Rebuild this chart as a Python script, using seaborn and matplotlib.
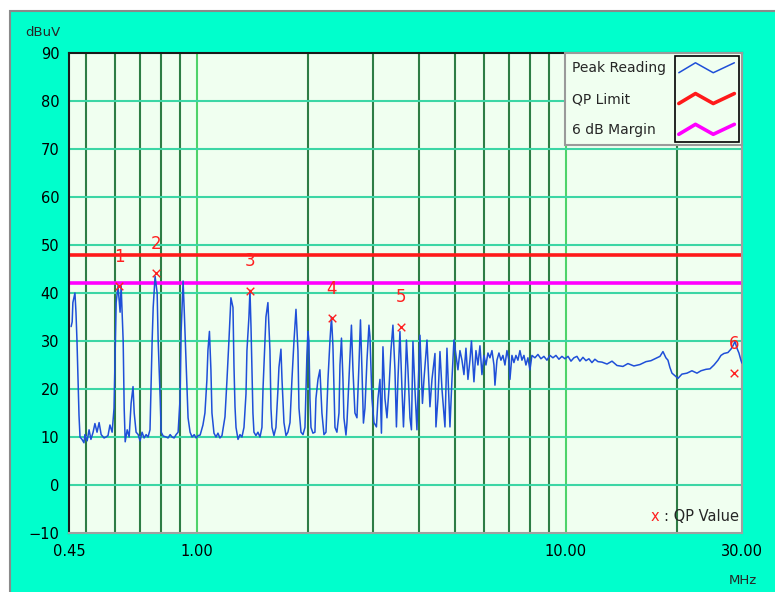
import numpy as np
import matplotlib
matplotlib.use("Agg")
import matplotlib.pyplot as plt
import seaborn as sns
from matplotlib.lines import Line2D
from matplotlib.patches import Rectangle
from matplotlib.legend_handler import HandlerLine2D
from matplotlib.ticker import NullLocator
from matplotlib.transforms import Bbox, IdentityTransform

# Peak reading trace (MHz, dBuV)
peak_freq = [
    0.456, 0.459, 0.461, 0.467, 0.470, 0.473, 0.476, 0.479, 0.482, 0.488,
    0.494, 0.497, 0.504, 0.510, 0.516, 0.523, 0.529, 0.536, 0.543, 0.550,
    0.560, 0.567, 0.574, 0.581, 0.589, 0.596, 0.604, 0.611, 0.619, 0.623,
    0.631, 0.635, 0.639, 0.647, 0.655, 0.663, 0.671, 0.676, 0.684, 0.693,
    0.701, 0.710, 0.719, 0.728, 0.737, 0.746, 0.756, 0.761, 0.765, 0.770,
    0.780, 0.785, 0.795, 0.800, 0.810, 0.825, 0.835, 0.846, 0.856, 0.867,
    0.878, 0.889, 0.900, 0.906, 0.917, 0.923, 0.935, 0.946, 0.958, 0.970,
    0.983, 0.995, 1.007, 1.020,
    1.038, 1.051, 1.064, 1.071, 1.081, 1.091, 1.098, 1.112, 1.126, 1.140,
    1.154, 1.169, 1.191, 1.206, 1.221, 1.236, 1.252, 1.260, 1.268, 1.276,
    1.292, 1.308, 1.324, 1.341, 1.358, 1.366, 1.383, 1.392, 1.401, 1.409,
    1.418, 1.427, 1.445, 1.463, 1.482, 1.500, 1.510, 1.529, 1.538, 1.557,
    1.577, 1.587, 1.597, 1.617, 1.637, 1.658, 1.668, 1.689, 1.700, 1.721,
    1.743, 1.764, 1.787, 1.809, 1.832, 1.855, 1.878, 1.890, 1.914, 1.938,
    1.962, 1.986, 1.999, 2.011, 2.024, 2.037, 2.062, 2.088, 2.101, 2.128,
    2.154, 2.181, 2.209, 2.237, 2.265, 2.293, 2.315, 2.336, 2.351, 2.366,
    2.395, 2.426, 2.441, 2.464, 2.487, 2.502, 2.534, 2.550, 2.582, 2.622,
    2.647, 2.680, 2.714, 2.748, 2.774, 2.800, 2.826, 2.853, 2.889, 2.925,
    2.943, 2.980, 3.018, 3.065, 3.094, 3.133, 3.162, 3.192, 3.232, 3.273,
    3.314, 3.355, 3.397, 3.440, 3.472, 3.505, 3.549, 3.594, 3.628, 3.662,
    3.696, 3.731, 3.778, 3.813, 3.849, 3.897, 3.946, 3.983, 4.021, 4.084,
    4.123, 4.201, 4.280, 4.334, 4.416, 4.443, 4.499, 4.556, 4.613, 4.700,
    4.759, 4.849, 4.910, 4.971,
    5.034, 5.097, 5.161, 5.226, 5.291, 5.358, 5.425, 5.493, 5.545, 5.632,
    5.703, 5.774, 5.847, 5.920, 5.995, 6.070, 6.146, 6.223, 6.302, 6.381,
    6.421, 6.501, 6.583, 6.665, 6.749, 6.834, 6.920, 7.007, 7.050, 7.139,
    7.228, 7.319, 7.411, 7.504, 7.598, 7.694, 7.790, 7.888, 7.987, 8.087,
    8.240, 8.396, 8.555, 8.716, 8.881, 9.049, 9.220, 9.394, 9.571, 9.752,
    9.938, 10.13, 10.32, 10.51, 10.71, 10.91, 11.12, 11.33, 11.54, 11.76,
    11.98, 12.21, 12.52, 12.92, 13.33, 13.75, 14.27, 14.72, 15.28, 15.87,
    16.48, 17.00, 17.54, 17.98, 18.32, 18.66, 18.90, 19.13, 19.38, 19.86,
    20.11, 20.62, 21.28, 21.95, 22.65, 23.23, 23.96, 24.57, 25.19, 25.82,
    26.31, 26.80, 27.48, 28.00, 28.35, 28.71, 29.07, 29.43, 29.80, 29.99,
]
peak_level = [
    33, 34, 38, 40, 36, 30, 22, 14.5, 10, 9.5,
    8.8, 10.5, 9.2, 11.5, 9.5, 11, 12.8, 11, 13, 10.5,
    9.8, 10, 10.3, 12.5, 11, 16, 38, 41.5, 36, 41.5,
    30, 16, 9, 11.5, 10, 17, 20.5, 15, 11, 10.5,
    9.2, 11, 9.8, 10.5, 10, 11.5, 30, 37, 40, 43.5,
    40, 30, 18, 11, 10.2, 10, 9.8, 10.5, 10, 9.8,
    10.5, 11, 18, 32, 42.5, 37, 25, 14, 11, 10,
    10.5, 9.8, 10.3, 10.4,
    12.5, 15, 21.9, 28.1, 32, 24, 15, 10.8, 10, 10.8,
    9.8, 10.3, 14.2, 21.9, 30.2, 39, 37, 24.6, 16.3, 12,
    9.5, 10.5, 10, 12, 19, 28, 35, 40.6, 33, 24,
    15, 11, 10.3, 11, 10, 12, 20, 30, 35, 38,
    28, 16, 12, 10.3, 12, 20, 24.5, 28.3, 22, 13,
    10.3, 11, 13, 22, 30, 36.6, 28, 16, 11, 10.5,
    12, 27, 32, 30, 18, 12, 10.8, 11, 18, 22,
    24, 15, 10.5, 11, 22, 30, 35, 29, 20, 12,
    11, 15, 25, 30.6, 22, 14, 10.4, 13, 22, 33.3,
    24, 15, 14, 25, 34.4, 24, 12.9, 16, 26, 33.3,
    31, 18, 13, 12.1, 18, 22, 10.8, 28.8, 18, 14,
    20, 28, 33.3, 24, 12.1, 22, 32, 20, 12.1, 20,
    30.2, 24, 14, 11.5, 29.9, 20, 11.5, 22, 31.2, 17,
    22, 30.2, 16.3, 22, 27.4, 12.1, 18, 27.8, 20, 12.1,
    28.5, 12.1, 22, 30.2,
    27, 24, 28, 26, 23, 28.5, 22, 26, 30, 21.5,
    28, 25, 29, 23, 27, 25, 27.5, 26.5, 28, 25,
    20.8, 26, 27.5, 26, 27, 25, 28, 26, 22, 27,
    25.5, 27, 26, 28, 26, 27, 25, 26.5, 24, 27,
    26.5, 27.2, 26.3, 26.8, 26, 27, 26.5, 27, 26.2, 26.8,
    26.3, 26.8, 25.8, 26.5, 26.8, 25.8, 26.6, 25.9, 26.3, 25.5,
    26.2, 25.7, 25.6, 25.2, 25.8, 24.9, 24.7, 25.3, 24.8, 25.1,
    25.7, 25.9, 26.4, 26.8, 27.8, 26.5, 26, 24.5, 23.3, 22.6,
    22.2, 23.1, 23.3, 23.8, 23.3, 23.8, 24.1, 24.2, 25, 26,
    27, 27.4, 27.6, 28.3, 29, 29.9, 28.5, 27.5, 26, 25.4,
]

# Limit lines
limit_freq = [0.45, 30]
qp_limit = [48, 48]
margin_limit = [42, 42]

# Quasi-peak measurements
qp_freq = [0.615, 0.773, 1.392, 2.317, 3.571, 28.53]
qp_level = [41.5, 44.1, 40.5, 34.7, 33.0, 23.4]
qp_labels = ["1", "2", "3", "4", "5", "6"]

# Axes
x_ticks = [0.45, 1, 10, 30]
x_tick_labels = ["0.45", "1.00", "10.00", "30.00"]
y_ticks = [-10, 0, 10, 20, 30, 40, 50, 60, 70, 80, 90]
minor_grid = [0.5, 0.6, 0.7, 0.8, 0.9, 2, 3, 4, 5, 6, 7, 8, 9, 20]
decade_grid = [1, 10]


class ZigzagHandler(HandlerLine2D):
    def create_artists(self, legend, orig_handle, xdescent, ydescent,
                       width, height, fontsize, trans):
        xs = np.array([0.0, 0.3, 0.62, 1.0]) * width - xdescent
        ys = np.array([0.15, 0.85, 0.15, 0.85]) * height - ydescent
        line = Line2D(xs, ys)
        self.update_prop(line, orig_handle, legend)
        line.set_transform(trans)
        return [line]


sns.set_style("white")
plt.rcParams["font.family"] = ["DejaVu Sans"]

fig = plt.figure(figsize=(7.75, 5.92), dpi=100)
fig.patch.set_facecolor("white")
fig.patches.append(Rectangle((10 / 775, -0.01), 1.0, 1.01 - 11 / 592,
                             transform=fig.transFigure, facecolor="#00FFCC",
                             edgecolor="#8a8a8a", lw=1.5, zorder=-10))

ax = fig.add_axes([69 / 775, 59 / 592, 673 / 775, 480 / 592])
ax.set_facecolor("#F0FFF0")

# grid
for f in minor_grid:
    ax.axvline(f, color="#2E7D45", lw=1.5, zorder=1)
for f in decade_grid:
    ax.axvline(f, color="#4ED36A", lw=1.5, zorder=1)
for v in y_ticks[1:-1]:
    ax.axhline(v, color="#3CD6A5", lw=1.5, zorder=1)

sns.lineplot(x=limit_freq, y=qp_limit, ax=ax, color="#FF1A1A", lw=2.6,
             label="QP Limit", zorder=2)
sns.lineplot(x=limit_freq, y=margin_limit, ax=ax, color="#FF00FF", lw=2.6,
             label="6 dB Margin", zorder=2)
sns.lineplot(x=peak_freq, y=peak_level, ax=ax, color="#1F4FD8", lw=1.1,
             estimator=None, sort=False, label="Peak Reading", zorder=3)
sns.scatterplot(x=qp_freq, y=qp_level, ax=ax, marker="x", color="#FF2020",
                s=30, linewidth=1.0, zorder=4)

for lab, f, v in zip(qp_labels, qp_freq, qp_level):
    ax.annotate(lab, (f, v), xytext=(0, 21), textcoords="offset points",
                ha="center", va="center", color="#FF2020", fontsize=12)

ax.set_xscale("log")
ax.set_xlim(0.45, 30)
ax.set_ylim(-10, 90)
ax.set_xticks(x_ticks)
ax.set_xticklabels(x_tick_labels)
ax.xaxis.set_minor_locator(NullLocator())
ax.set_yticks(y_ticks)
ax.set_xlabel("")
ax.set_ylabel("")
ax.tick_params(axis="both", direction="out", length=5, width=1,
               colors="black", labelsize=10.5)
ax.tick_params(axis="y", pad=2)
ax.tick_params(axis="x", pad=3)

for side in ["top", "left"]:
    ax.spines[side].set_color("#1a1a1a")
    ax.spines[side].set_linewidth(1.5)
for side in ["bottom", "right"]:
    ax.spines[side].set_color("#A0A0A0")
    ax.spines[side].set_linewidth(1.5)

# legend, reorder to match the reference
handles, labels = ax.get_legend_handles_labels()
order = [labels.index(n) for n in ["Peak Reading", "QP Limit", "6 dB Margin"]]
leg = ax.legend([handles[i] for i in order], [labels[i] for i in order],
                handler_map={Line2D: ZigzagHandler()}, loc="upper right",
                borderaxespad=0, markerfirst=False, frameon=True,
                fancybox=False, framealpha=1, facecolor="#F0FFF0",
                edgecolor="#9A9A9A", fontsize=10, handlelength=4.0,
                handleheight=1.2, handletextpad=0.9, labelspacing=1.15,
                borderpad=0.55)
leg.get_frame().set_linewidth(1.5)

t = ax.text(0.995, 0.034, ": QP Value", transform=ax.transAxes,
            ha="right", va="center", fontsize=10.5)
ax.annotate("x", xy=(0, 0.5), xycoords=t, xytext=(-3, 0),
            textcoords="offset points", ha="right", va="center",
            color="#FF2020", fontsize=10.5)

fig.text(25 / 775, 1 - 32 / 592, "dBuV", fontsize=9.5, ha="left", va="center")
fig.text(757 / 775, 1 - 580 / 592, "MHz", fontsize=9.5, ha="right", va="center")

# left-align the legend labels (handles stay in the right column)
fig.canvas.draw()
widths = [tx.get_window_extent().width for tx in leg.texts]
entries = leg._legend_handle_box.get_children()[0].get_children()
for entry, w in zip(entries, widths):
    entry.sep += (max(widths) - w) * 72 / fig.dpi

# black box around the legend samples
fig.canvas.draw()
hb = Bbox.union([h.get_window_extent() for h in leg.legend_handles])
fb = leg.get_frame().get_window_extent()
fig.add_artist(Rectangle((hb.x0 - 4, fb.y0 + 3), fb.x1 - 3 - (hb.x0 - 4),
                         fb.height - 6, transform=IdentityTransform(),
                         fill=False, edgecolor="black", lw=1.2, zorder=10))

fig.savefig("out.png", dpi=100)
